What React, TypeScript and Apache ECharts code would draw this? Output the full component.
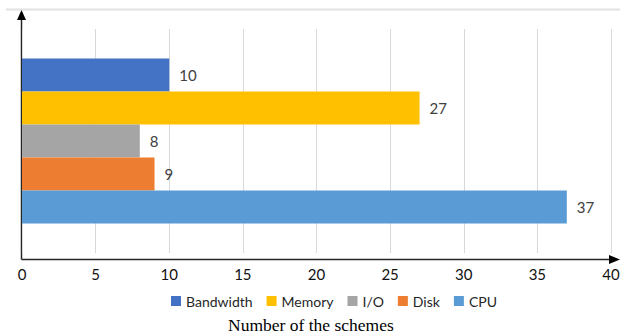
import React, { useEffect, useRef } from "react";
import * as echarts from "echarts";

// Resource types and how many schemes address each
const categories = ["Bandwidth", "Memory", "I/O", "Disk", "CPU"];
const counts = [10, 27, 8, 9, 37];
const colors = ["#4472C4", "#FFC000", "#A5A5A5", "#ED7D31", "#5B9BD5"];
const xTicks = { min: 0, max: 40, interval: 5 };

export default function App() {
  const ref = useRef<HTMLDivElement>(null);

  useEffect(() => {
    document.body.style.margin = "0";
    if (!ref.current) return;
    const chart = echarts.init(ref.current, undefined, { renderer: "svg" });
    const axisColor = "#262626";
    chart.setOption({
      animation: false,
      grid: {
        left: 22,
        right: 9,
        top: 29,
        bottom: 81,
        containLabel: false,
        outerBoundsMode: "none",
      },
      legend: {
        data: categories,
        left: 166,
        top: 289,
        itemWidth: 10,
        itemHeight: 10,
        itemGap: 14,
        icon: "rect",
        textStyle: { fontFamily: "Lato", fontSize: 14, color: "#262626" },
      },
      xAxis: {
        type: "value",
        min: xTicks.min,
        max: xTicks.max,
        interval: xTicks.interval,
        offset: 6,
        axisLine: { show: false },
        axisTick: { show: false },
        axisLabel: {
          fontFamily: "Lato",
          fontSize: 15,
          color: "#111",
          margin: 7,
        },
        splitLine: { show: true, lineStyle: { color: "#d9d9d9", width: 1 } },
      },
      yAxis: {
        type: "category",
        data: [""],
        inverse: true,
        axisLine: { show: false },
        axisTick: { show: false },
        axisLabel: { show: false },
      },
      series: categories.map((name, i) => ({
        name,
        type: "bar",
        data: [counts[i]],
        barWidth: 33,
        barGap: "0%",
        itemStyle: { color: colors[i] },
        label: {
          show: true,
          position: "right",
          distance: 10,
          fontFamily: "Lato",
          fontSize: 15,
          color: "#404040",
        },
      })),
      graphic: [
        // faint frame line across the top
        {
          type: "line",
          shape: { x1: 6, y1: 9.5, x2: 620, y2: 9.5 },
          style: { stroke: "#e2e2e2", lineWidth: 2 },
          silent: true,
        },
        // vertical axis with arrow
        {
          type: "line",
          shape: { x1: 21.5, y1: 259.5, x2: 21.5, y2: 16 },
          style: { stroke: axisColor, lineWidth: 1.5 },
          silent: true,
        },
        {
          type: "polygon",
          shape: { points: [[21.5, 10], [17, 20], [26, 20]] },
          style: { fill: "#000" },
          silent: true,
        },
        // horizontal axis with arrow
        {
          type: "line",
          shape: { x1: 21.5, y1: 259.5, x2: 612, y2: 259.5 },
          style: { stroke: axisColor, lineWidth: 1.5 },
          silent: true,
        },
        {
          type: "polygon",
          shape: { points: [[620, 259.5], [609, 255], [609, 264]] },
          style: { fill: "#000" },
          silent: true,
        },
        {
          type: "text",
          left: 228,
          top: 316,
          style: {
            text: "Number of the schemes",
            font: '17.5px "Liberation Serif", "Times New Roman", serif',
            fill: "#000",
          },
        },
      ],
    });
    return () => chart.dispose();
  }, []);

  return <div ref={ref} style={{ width: 620, height: 334 }} />;
}
